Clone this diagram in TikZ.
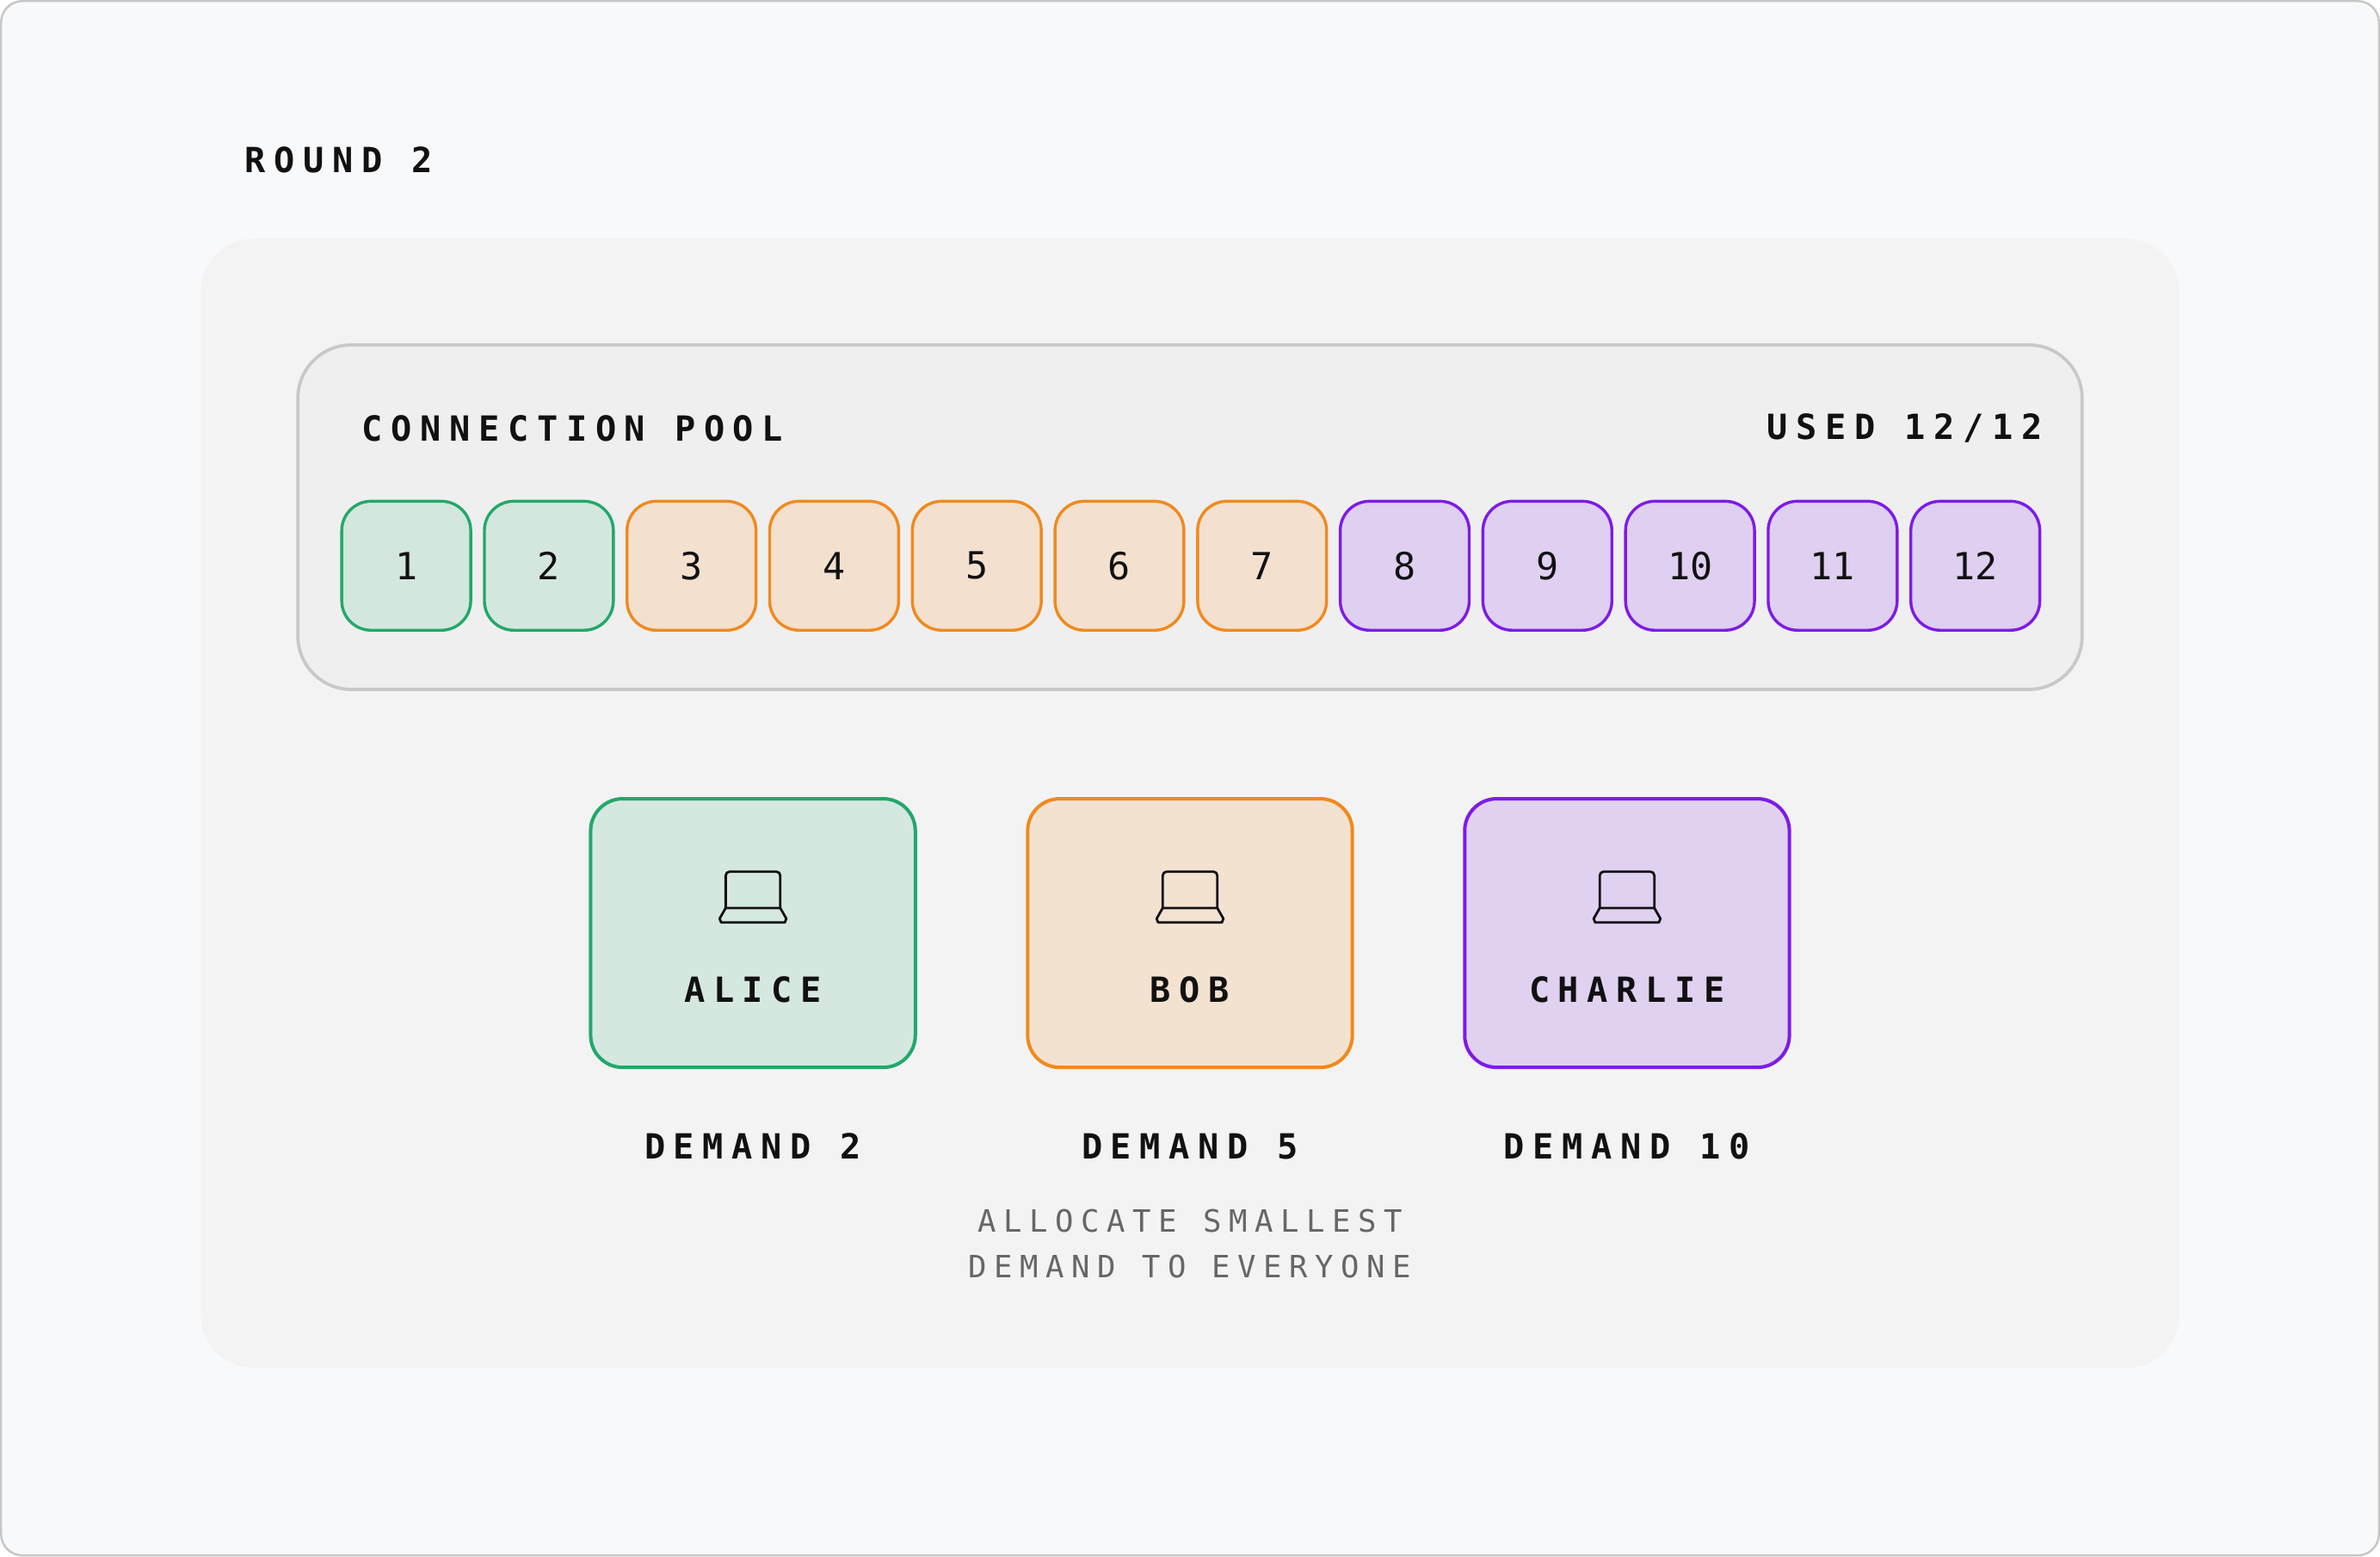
\documentclass[tikz,border=0pt]{standalone}
\usepackage{fontspec}
\newfontfamily\mono[LetterSpace=24]{DejaVu Sans Mono}
\newfontfamily\monon{DejaVu Sans Mono}
\definecolor{gS}{HTML}{22A86A}\definecolor{gF}{HTML}{D3E7DE}
\definecolor{oS}{HTML}{F08A1E}\definecolor{oF}{HTML}{F3E0CF}
\definecolor{pS}{HTML}{7E1BE8}\definecolor{pF}{HTML}{DFCFF0}
\definecolor{txt}{HTML}{111111}
\definecolor{bgA}{HTML}{F8F9FA}\definecolor{bgB}{HTML}{F3F3F4}
\definecolor{poolF}{HTML}{EFEFEF}\definecolor{poolS}{HTML}{C8C8C8}
\begin{document}
\begin{tikzpicture}[x=0.02cm,y=-0.02cm,
 lbl/.style={font=\mono\bfseries\fontsize{13}{15}\selectfont,text=txt,inner sep=0},
 cell/.style={draw=#1S,fill=#1F,line width=1.1pt,rounded corners=11pt,minimum width=1.7cm,minimum height=1.7cm,font=\monon\fontsize{14}{16}\selectfont,text=txt},
 user/.style={draw=#1S,fill=#1F!95!white,line width=1.3pt,rounded corners=12pt,minimum width=4.28cm,minimum height=3.54cm}]
\draw[draw=black!22,fill=bgA,rounded corners=8pt,line width=0.8pt] (0.5,0.5) rectangle (1567.5,1024.5);
\useasboundingbox (0,0) rectangle (1568,1025);
\node[lbl,anchor=west] (round) at (161,105) {ROUND 2};
\fill[bgB,rounded corners=20pt] (132,157) rectangle (1436,901);
\node[draw=poolS,fill=poolF,line width=1.2pt,rounded corners=20pt,minimum width=23.52cm,minimum height=4.54cm] (pool) at (784,340.5) {};
\node[lbl,anchor=west] (cp) at (238,282) {CONNECTION POOL};
\node[lbl,anchor=east] (used) at (1346,282) {USED 12/12};
\foreach \i/\c in {1/g,2/g,3/o,4/o,5/o,6/o,7/o,8/p,9/p,10/p,11/p,12/p}
  \node[cell=\c] (c\i) at ({267.5+94*(\i-1)},372.5) {\i};
\foreach \n/\x/\c/\t/\d in {alice/496/g/ALICE/2,bob/784/o/BOB/5,charlie/1072/p/CHARLIE/10}{
  \node[user=\c] (\n) at (\x,614.5) {};
  \node[lbl] (\n-name) at (\x,652) {\t};
  \node[lbl] (\n-dem) at (\x,755) {DEMAND \d};
  \begin{scope}[shift={(\x,590)},line width=0.9pt,draw=txt,line join=round]
   \draw[rounded corners=1.5pt] (-18,8) -- (-18,-16) -- (18,-16) -- (18,8);
   \draw (-18,8) -- (-22,15) -- (-21,17.5) -- (21,17.5) -- (22,15) -- (18,8) -- cycle;
  \end{scope}
}
\node[font=\mono\fontsize{11.5}{17}\selectfont,text=black!60,align=center] (note) at (784,819) {ALLOCATE SMALLEST\\DEMAND TO EVERYONE};
\end{tikzpicture}
\end{document}
